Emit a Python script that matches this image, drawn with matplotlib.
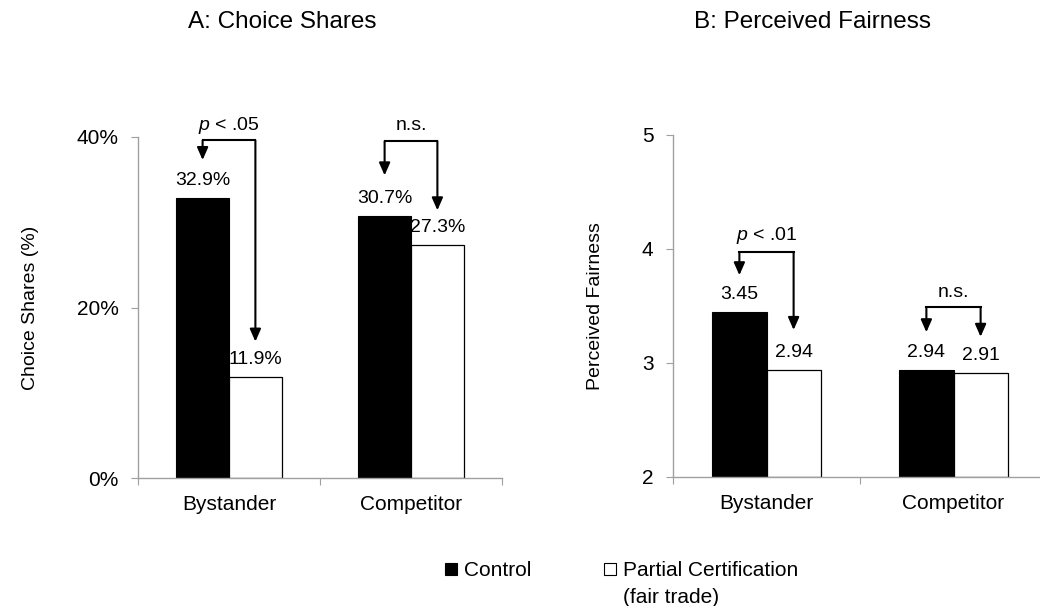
import matplotlib
matplotlib.use('Agg')
import matplotlib.pyplot as plt
from matplotlib.lines import Line2D
from matplotlib.ticker import FuncFormatter

plt.rcParams['font.family'] = ['Liberation Sans', 'DejaVu Sans']
plt.rcParams['mathtext.fontset'] = 'custom'
plt.rcParams['mathtext.rm'] = 'Liberation Sans'
plt.rcParams['mathtext.it'] = 'Liberation Sans:italic'

# ---- data ----
groups = ['Bystander', 'Competitor']
series = ['Control', 'Partial Certification\n(fair trade)']

share_control = [32.9, 30.7]
share_partial = [11.9, 27.3]
share_labels_control = ['32.9%', '30.7%']
share_labels_partial = ['11.9%', '27.3%']

fair_control = [3.45, 2.94]
fair_partial = [2.94, 2.91]
fair_labels_control = ['3.45', '2.94']
fair_labels_partial = ['2.94', '2.91']

share_tests = ['$\\it{p}$ < .05', 'n.s.']
fair_tests = ['$\\it{p}$ < .01', 'n.s.']

# bracket layout per group: (bracket y, left tip y, right tip y, text y)
share_brackets = [(39.6, 37.3, 16.0, 41.3), (39.5, 35.5, 31.4, 41.3)]
fair_brackets = [(3.97, 3.77, 3.29, 4.12), (3.49, 3.27, 3.23, 3.62)]

AXIS_GREY = '#a0a0a0'
BAR_W = 0.29
OFF = 0.145
W, H = 1040, 606


def px_axes(left, right, top, bottom):
    return [left / W, 1 - bottom / H, (right - left) / W, (bottom - top) / H]


def style_axes(ax, ylabel):
    for s in ['top', 'right']:
        ax.spines[s].set_visible(False)
    for s in ['left', 'bottom']:
        ax.spines[s].set_color(AXIS_GREY)
        ax.spines[s].set_linewidth(1.0)
    ax.set_xlim(-0.5, 1.5)
    # boundary ticks between categories, names on minor ticks
    ax.set_xticks([-0.5, 0.5, 1.5])
    ax.set_xticklabels([])
    ax.set_xticks([0, 1], minor=True)
    ax.set_xticklabels(groups, minor=True, fontsize=15)
    ax.tick_params(axis='x', which='major', length=5, color=AXIS_GREY, direction='out')
    ax.tick_params(axis='x', which='minor', length=0, pad=12)
    ax.tick_params(axis='y', length=5, color=AXIS_GREY, direction='out',
                   pad=9, labelsize=15)
    ax.set_ylabel(ylabel, fontsize=14, labelpad=27)


def draw_bars(ax, ctrl, part, lab_c, lab_p, base):
    x = range(len(groups))
    xc = [i - OFF for i in x]
    xp = [i + OFF for i in x]
    ax.bar(xc, [v - base for v in ctrl], BAR_W, bottom=base, color='black',
           edgecolor='black', linewidth=0.8)
    ax.bar(xp, [v - base for v in part], BAR_W, bottom=base, color='white',
           edgecolor='black', linewidth=0.9)
    for xi, v, t in zip(xc, ctrl, lab_c):
        ax.annotate(t, (xi, v), xytext=(0, 12.5), textcoords='offset points',
                    ha='center', va='center', fontsize=14)
    for xi, v, t in zip(xp, part, lab_p):
        ax.annotate(t, (xi, v), xytext=(0, 12.5), textcoords='offset points',
                    ha='center', va='center', fontsize=14)
    return xc, xp


def draw_brackets(ax, xc, xp, brackets, tests):
    for xl, xr, (yb, tl, tr, yt), txt in zip(xc, xp, brackets, tests):
        ax.plot([xl, xr], [yb, yb], color='black', lw=1.5, clip_on=False,
                solid_capstyle='projecting')
        for xa, tip in [(xl, tl), (xr, tr)]:
            ax.annotate('', xy=(xa, tip), xytext=(xa, yb),
                        arrowprops=dict(arrowstyle='-|>,head_length=0.75,head_width=0.33',
                                        color='black', lw=1.5, shrinkA=0, shrinkB=0,
                                        mutation_scale=10),
                        annotation_clip=False)
        ax.text((xl + xr) / 2, yt, txt, ha='center', va='center', fontsize=14)


fig = plt.figure(figsize=(10.4, 6.06), dpi=100)

# A: choice shares
ax1 = fig.add_axes(px_axes(138, 502, 137, 478))
style_axes(ax1, 'Choice Shares (%)')
ax1.set_ylim(0, 40)
ax1.set_yticks([0, 20, 40])
ax1.yaxis.set_major_formatter(FuncFormatter(lambda v, p: f'{v:.0f}%'))
xc, xp = draw_bars(ax1, share_control, share_partial,
                   share_labels_control, share_labels_partial, 0)
draw_brackets(ax1, xc, xp, share_brackets, share_tests)

# B: perceived fairness
ax2 = fig.add_axes(px_axes(673, 1047, 135, 477))
style_axes(ax2, 'Perceived Fairness')
ax2.set_ylim(2, 5)
ax2.set_yticks([2, 3, 4, 5])
xc, xp = draw_bars(ax2, fair_control, fair_partial,
                   fair_labels_control, fair_labels_partial, 2)
draw_brackets(ax2, xc, xp, fair_brackets, fair_tests)

fig.text(282 / W, 1 - 22 / H, 'A: Choice Shares', ha='center', va='center', fontsize=17.5)
fig.text(813 / W, 1 - 22 / H, 'B: Perceived Fairness', ha='center', va='center', fontsize=17.5)

# legend: first line of each label next to the square, wrapped lines below
handles = [
    Line2D([], [], marker='s', ls='none', markersize=9, markerfacecolor='black',
           markeredgecolor='black', markeredgewidth=0.8),
    Line2D([], [], marker='s', ls='none', markersize=9, markerfacecolor='white',
           markeredgecolor='black', markeredgewidth=0.8),
]
first_lines = [s.split('\n')[0] for s in series]
leg = fig.legend(handles, first_lines, loc='upper left',
                 bbox_to_anchor=(443 / W, 1 - 561 / H),
                 ncol=2, frameon=False, fontsize=15, handlelength=0.8,
                 handletextpad=0.2, columnspacing=3.4, borderpad=0, borderaxespad=0)
fig.canvas.draw()
for lab, txt in zip(series, leg.get_texts()):
    rest = lab.split('\n')[1:]
    if rest:
        bb = txt.get_window_extent()
        fig.text(bb.x0 / W, (bb.y0 - 27) / H, '\n'.join(rest), ha='left',
                 va='bottom', fontsize=15)

fig.savefig('out.png', dpi=100)
